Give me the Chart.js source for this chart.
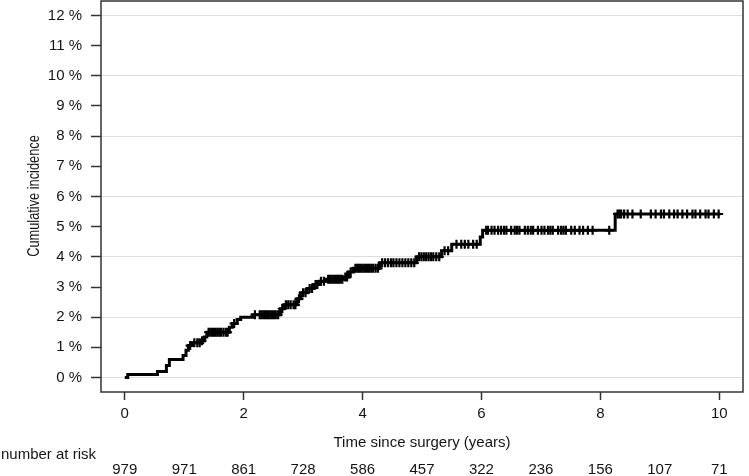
<!DOCTYPE html>
<html>
<head>
<meta charset="utf-8">
<script src="https://cdn.jsdelivr.net/npm/chart.js@4"></script>
<style>
  body { margin: 0; background: #fff; }
  canvas { display: block; }
</style>
</head>
<body>
<canvas id="grafica" width="749" height="476"></canvas>
<script>
// step curve: time (years) and cumulative incidence (%) from that time on
const stepTimes = [0, 0.05, 0.55, 0.70, 0.75, 0.98, 1.03, 1.07, 1.14, 1.28, 1.34, 1.38, 1.76, 1.81, 1.89, 1.95,
  2.15, 2.62, 2.68, 2.90, 2.96, 3.07, 3.18, 3.27, 3.39, 3.68, 3.77, 3.85, 4.29, 4.91, 5.33, 5.50, 5.98, 6.02, 8.25, 10.02];
const stepLevels = [0, 0.1, 0.2, 0.4, 0.6, 0.73, 0.9, 1.06, 1.15, 1.22, 1.34, 1.5, 1.67, 1.79, 1.92, 2.0,
  2.08, 2.28, 2.41, 2.61, 2.81, 2.95, 3.08, 3.19, 3.26, 3.33, 3.5, 3.62, 3.8, 4.0, 4.2, 4.42, 4.66, 4.88, 5.42, 5.42];

// censoring marks, grouped by the level they sit on
const censorLevels = [1.06, 1.15, 1.22, 1.5, 1.79, 2.08, 2.28, 2.41, 2.61, 2.81, 2.95, 3.08, 3.19, 3.26, 3.33, 3.5, 3.62, 3.8, 4.0, 4.2, 4.42, 4.88, 5.42];
const censorTimes = [
  [1.10],
  [1.17, 1.22, 1.26],
  [1.30],
  [1.41, 1.44, 1.47, 1.50, 1.53, 1.56, 1.59, 1.62, 1.66, 1.70, 1.73],
  [1.84],
  [2.19, 2.27, 2.30, 2.33, 2.36, 2.39, 2.42, 2.45, 2.48, 2.51, 2.54, 2.58],
  [2.65],
  [2.71, 2.75, 2.79, 2.84, 2.87],
  [2.93],
  [3.00, 3.04],
  [3.11, 3.15],
  [3.21, 3.24],
  [3.30, 3.35],
  [3.42, 3.45, 3.48, 3.51, 3.54, 3.57, 3.60, 3.63, 3.66],
  [3.71, 3.74],
  [3.80],
  [3.88, 3.91, 3.94, 3.97, 4.00, 4.03, 4.06, 4.09, 4.12, 4.15, 4.18, 4.22, 4.26],
  [4.33, 4.38, 4.43, 4.48, 4.52, 4.57, 4.62, 4.67, 4.72, 4.77, 4.82, 4.87],
  [4.95, 4.99, 5.03, 5.07, 5.11, 5.15, 5.19, 5.24, 5.29],
  [5.38, 5.44],
  [5.58, 5.66, 5.72, 5.78, 5.86, 5.92],
  [6.08, 6.11, 6.17, 6.22, 6.28, 6.33, 6.38, 6.42, 6.50, 6.56, 6.60, 6.64, 6.73, 6.78, 6.83, 6.87, 6.95, 7.01, 7.06, 7.12, 7.16, 7.20, 7.29, 7.34, 7.38, 7.42, 7.51, 7.57, 7.65, 7.71, 7.79, 7.87, 8.15],
  [8.29, 8.32, 8.35, 8.40, 8.46, 8.54, 8.68, 8.85, 8.93, 9.02, 9.07, 9.16, 9.24, 9.30, 9.38, 9.46, 9.55, 9.60, 9.68, 9.77, 9.82, 9.91, 9.99]
];

const xTicks = [0, 2, 4, 6, 8, 10];
const yTicks = [0, 1, 2, 3, 4, 5, 6, 7, 8, 9, 10, 11, 12];
const riskTimes = [0, 1, 2, 3, 4, 5, 6, 7, 8, 9, 10];
const atRisk = [979, 971, 861, 728, 586, 457, 322, 236, 156, 107, 71];

const fuente = "'Liberation Sans', Arial, sans-serif";
const colorTexto = '#141414';

const curva = stepTimes.map((t, i) => ({ x: t, y: stepLevels[i] }));
const cruces = [];
censorTimes.forEach((grupo, i) => grupo.forEach(t => cruces.push({ x: t, y: censorLevels[i] })));

const textos = {
  id: 'textos',
  afterDraw(chart) {
    const ctx = chart.ctx;
    const a = chart.chartArea;
    const xs = chart.scales.x;
    ctx.save();
    // box around the plot
    ctx.strokeStyle = '#333';
    ctx.lineWidth = 1.5;
    ctx.strokeRect(a.left, a.top, a.right - a.left, a.bottom - a.top);

    ctx.fillStyle = colorTexto;
    ctx.font = '15px ' + fuente;
    ctx.textBaseline = 'middle';
    ctx.textAlign = 'center';
    ctx.fillText('Time since surgery (years)', (a.left + a.right) / 2, 443);
    ctx.textAlign = 'left';
    ctx.fillText('number at risk', 1, 455);
    ctx.textAlign = 'center';
    riskTimes.forEach((t, i) => ctx.fillText(String(atRisk[i]), xs.getPixelForValue(t), 470));

    // y title, narrow lettering
    ctx.translate(35, 196);
    ctx.rotate(-Math.PI / 2);
    ctx.scale(0.8, 1);
    ctx.font = '16px ' + fuente;
    ctx.fillText('Cumulative incidence', 0, 0);
    ctx.restore();
  }
};

new Chart(document.getElementById('grafica'), {
  type: 'line',
  data: {
    datasets: [{
      data: curva,
      stepped: 'before',
      borderColor: '#000',
      borderWidth: 3,
      pointRadius: 0,
      fill: false
    }, {
      type: 'scatter',
      data: cruces,
      pointStyle: 'cross',
      pointRadius: 4.5,
      borderColor: '#000',
      borderWidth: 2.2,
      backgroundColor: '#000'
    }]
  },
  options: {
    responsive: false,
    animation: false,
    layout: { autoPadding: false, padding: { top: 1, right: 6, left: 0, bottom: 0 } },
    plugins: { legend: { display: false }, tooltip: { enabled: false } },
    scales: {
      x: {
        type: 'linear',
        min: -0.4,
        max: 10.4,
        afterBuildTicks: s => { s.ticks = xTicks.map(v => ({ value: v })); },
        afterFit: s => { s.height = 84; s.paddingLeft = 0; s.paddingRight = 0; },
        border: { display: false },
        grid: { drawOnChartArea: false, tickLength: 8, tickColor: '#333', tickWidth: 1.5 },
        ticks: { font: { family: fuente, size: 15 }, color: colorTexto, padding: 5, maxRotation: 0 }
      },
      y: {
        min: -0.48,
        max: 12.48,
        afterBuildTicks: s => { s.ticks = yTicks.map(v => ({ value: v })); },
        afterFit: s => { s.width = 101; s.paddingTop = 0; s.paddingBottom = 0; },
        border: { display: false },
        grid: {
          color: c => (c.tick && c.tick.value % 2 === 0) ? '#dedede' : 'rgba(0,0,0,0)',
          lineWidth: 1,
          tickLength: 10,
          tickColor: '#333',
          tickWidth: 1.5
        },
        ticks: {
          font: { family: fuente, size: 15 },
          color: colorTexto,
          padding: 9,
          callback: v => v + ' %'
        }
      }
    }
  },
  plugins: [textos]
});
</script>
</body>
</html>
